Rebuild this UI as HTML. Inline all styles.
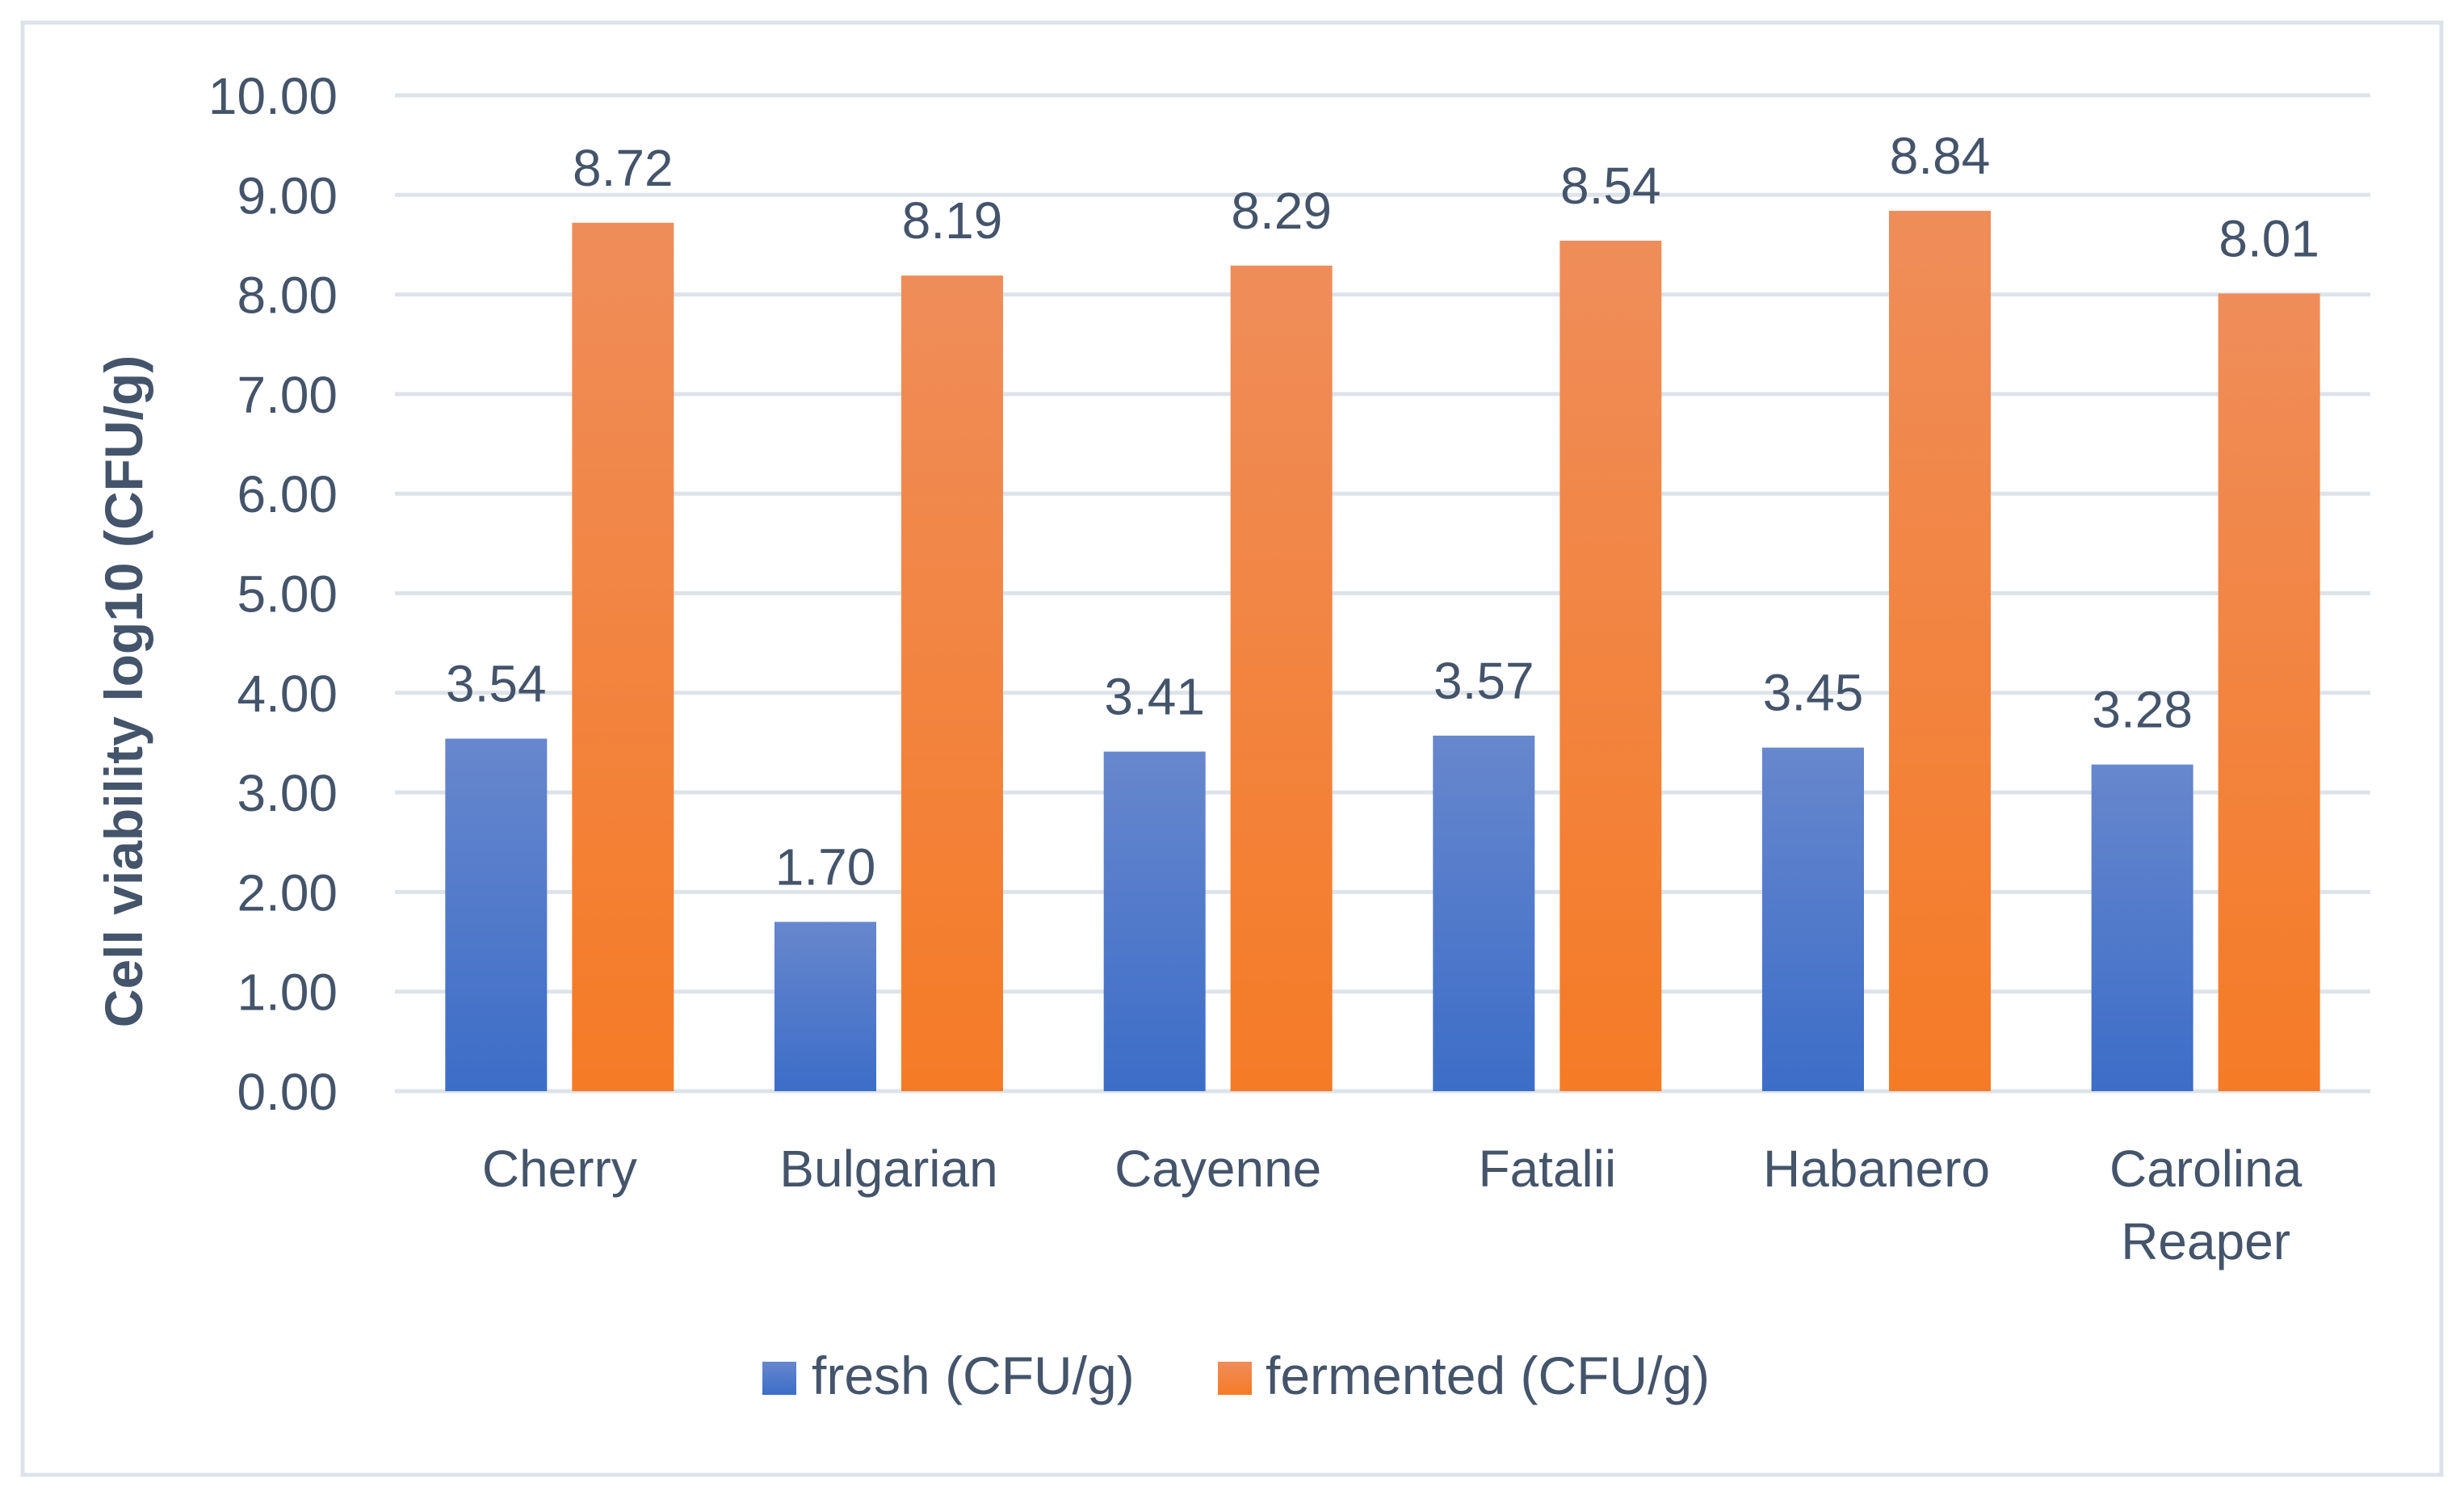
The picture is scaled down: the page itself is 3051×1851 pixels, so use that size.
<!DOCTYPE html>
<html><head><meta charset="utf-8"><style>
html,body{margin:0;padding:0;background:#fff;}
svg{display:block;font-family:"Liberation Sans",sans-serif;}
</style></head><body>
<svg id="chart" width="3051" height="1851" viewBox="0 0 3051 1851" xmlns="http://www.w3.org/2000/svg">
<defs>
<linearGradient id="gBlue" x1="0" y1="0" x2="0" y2="1"><stop offset="0" stop-color="#6787cd"/><stop offset="1" stop-color="#3c6dc8"/></linearGradient>
<linearGradient id="gOrange" x1="0" y1="0" x2="0" y2="1"><stop offset="0" stop-color="#ef8d5a"/><stop offset="1" stop-color="#f57b26"/></linearGradient>
</defs>
<rect x="28" y="28" width="2995" height="1798" fill="#fff" stroke="#dee3ea" stroke-width="5"/>
<g id="grid"></g>
<g id="bars"></g>
<g id="labels"></g>
<text transform="translate(176,856) rotate(-90)" text-anchor="middle" font-size="66" font-weight="bold" fill="#44546a">Cell viability log10 (CFU/g)</text>
<g>
<rect x="944" y="1686" width="42" height="41" fill="url(#gBlue)"/>
<text x="1005" y="1726" font-size="66" fill="#44546a">fresh (CFU/g)</text>
<rect x="1508" y="1686" width="42" height="41" fill="url(#gOrange)"/>
<text x="1567" y="1726" font-size="66" fill="#44546a">fermented (CFU/g)</text>
</g>
</svg>
<script>
const categories = [["Cherry"],["Bulgarian"],["Cayenne"],["Fatalii"],["Habanero"],["Carolina","Reaper"]];
const freshValues = [3.54, 1.70, 3.41, 3.57, 3.45, 3.28];
const fermentedValues = [8.72, 8.19, 8.29, 8.54, 8.84, 8.01];
const yTicks = [0,1,2,3,4,5,6,7,8,9,10];

const NS = "http://www.w3.org/2000/svg";
const plotL = 489, plotR = 2935, y0 = 1351, yTop = 118, yMax = 10;
const band = (plotR - plotL) / categories.length;
const barW = 126, gap = 31;
function yScale(v){ return y0 - (v / yMax) * (y0 - yTop); }
function xCenter(i){ return plotL + band * (i + 0.5); }
function mk(tag, attrs, parent){ const e = document.createElementNS(NS, tag); for (const k in attrs) e.setAttribute(k, attrs[k]); parent.appendChild(e); return e; }

const grid = document.getElementById('grid');
const bars = document.getElementById('bars');
const labels = document.getElementById('labels');

yTicks.forEach(t => {
  const y = yScale(t);
  const ln = mk('line', {x1: plotL, x2: plotR, y1: y, y2: y, stroke: '#dee3ea', 'stroke-width': 5}, grid);
  
  
  const tx = mk('text', {x: 418, y: y + 23, 'text-anchor': 'end', 'font-size': 64, fill: '#44546a'}, labels);
  tx.textContent = t.toFixed(2);
  
  
});

categories.forEach((c, i) => {
  const cx = xCenter(i);
  const series = [[freshValues[i], 'url(#gBlue)', cx - gap/2 - barW, 'fresh'], [fermentedValues[i], 'url(#gOrange)', cx + gap/2, 'fermented']];
  series.forEach(s => {
    const y = yScale(s[0]);
    const r = mk('rect', {x: s[2], y: y, width: barW, height: y0 - y, fill: s[1]}, bars);
    
    
    const lb = mk('text', {x: s[2] + barW/2, y: y - 46, 'text-anchor': 'middle', 'font-size': 64, fill: '#44546a'}, labels);
    lb.textContent = s[0].toFixed(2);
    
    
  });
  c.forEach((line, j) => {
    const t = mk('text', {x: cx, y: 1469 + j * 90, 'text-anchor': 'middle', 'font-size': 64, fill: '#44546a'}, labels);
    t.textContent = line;
    
    
  });
});
</script>
</body></html>
